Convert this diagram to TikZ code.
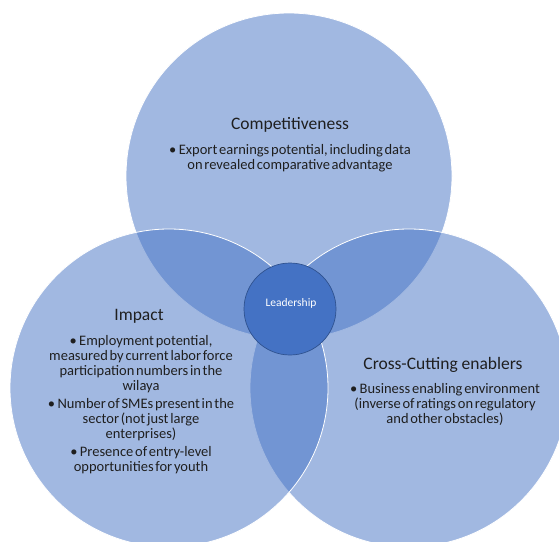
\documentclass[tikz,border=0pt]{standalone}
\usepackage{fontspec}
\setmainfont{Carlito}
\definecolor{acc}{HTML}{4472C4}
\definecolor{accdark}{HTML}{2F528F}
\definecolor{txt}{HTML}{1F1F1F}
\newcommand\mytightsp{\spaceskip=0.12em plus 0.05em\relax}
\begin{document}
\begin{tikzpicture}[x=1pt,y=-1pt,
  venn/.style={circle, inner sep=0pt, outer sep=0pt, fill=acc, fill opacity=0.5,
    draw=white, draw opacity=1, line width=0.8pt},
  lead/.style={circle, inner sep=0pt, outer sep=0pt, fill=acc, draw=accdark,
    line width=0.7pt, minimum size=92pt},
  ttl/.style={inner sep=0pt, text=txt, font=\fontsize{17.5}{20}\selectfont, anchor=base},
  body/.style={inner sep=0pt, text=txt, align=center, anchor=north,
    font=\fontsize{14.5}{15}\selectfont\mytightsp},
]
\useasboundingbox (0,0) rectangle (559,541);
\begin{scope}
\clip (0,0) rectangle (559,541);
\node[venn, minimum size=326pt] (comp) at (289,176) {};
\node[venn, minimum size=318pt] (cross) at (409,388) {};
\node[venn, minimum size=318pt] (impact) at (169,388) {};
\end{scope}
\node[lead] (leader) at (290,309) {};
\node[text=white, font=\fontsize{11.5}{13}\selectfont, inner sep=0pt] (leadtxt) at (291,303) {Leadership};

\node[ttl] (comptitle) at (290,129) {Competitiveness};
\node[body] (compbody) at (290,144) {•\,Export earnings potential, including data\\on revealed comparative advantage};

\node[ttl] (imptitle) at (139,320) {Impact};
\node[body] (impbody) at (141,335) {•\,Employment potential,\\measured by current labor force\\participation numbers in the\\wilaya\\[3pt]•\,Number of SMEs present in the\\sector (not just large\\enterprises)\\[3pt]•\,Presence of entry-level\\opportunities for youth};

\node[ttl] (crosstitle) at (443,369) {Cross-Cutting enablers};
\node[body] (crossbody) at (445,383) {•\,Business enabling environment\\(inverse of ratings on regulatory\\and other obstacles)};
\end{tikzpicture}
\end{document}
